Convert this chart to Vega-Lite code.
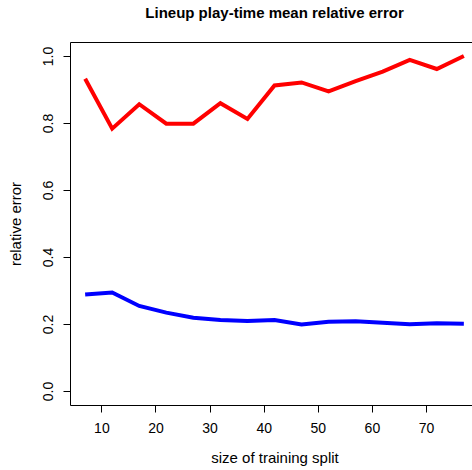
{
  "$schema": "https://vega.github.io/schema/vega-lite/v6.json",
  "autosize": "none",
  "padding": {"left": 70, "top": 42, "right": 0, "bottom": 65},
  "width": 409,
  "height": 363,
  "background": "white",
  "title": {"text": "Lineup play-time mean relative error", "font": "Liberation Sans", "fontSize": 15, "fontWeight": "bold", "color": "black", "anchor": "middle", "offset": 21},
  "config": {
    "view": {"stroke": "black", "strokeWidth": 1},
    "axis": {"labelFont": "Liberation Sans", "titleFont": "Liberation Sans", "labelFontSize": 14, "titleFontSize": 15, "titleFontWeight": "normal", "labelColor": "black", "titleColor": "black", "tickColor": "black", "tickSize": 7, "grid": false, "domain": false}
  },
  "data": {"values": [
    {"size": 7, "series": "a", "err": 0.932},
    {"size": 12, "series": "a", "err": 0.783},
    {"size": 17, "series": "a", "err": 0.856},
    {"size": 22, "series": "a", "err": 0.798},
    {"size": 27, "series": "a", "err": 0.798},
    {"size": 32, "series": "a", "err": 0.859},
    {"size": 37, "series": "a", "err": 0.812},
    {"size": 42, "series": "a", "err": 0.912},
    {"size": 47, "series": "a", "err": 0.921},
    {"size": 52, "series": "a", "err": 0.894},
    {"size": 57, "series": "a", "err": 0.925},
    {"size": 62, "series": "a", "err": 0.953},
    {"size": 67, "series": "a", "err": 0.988},
    {"size": 72, "series": "a", "err": 0.961},
    {"size": 77, "series": "a", "err": 1.0},
    {"size": 7, "series": "b", "err": 0.288},
    {"size": 12, "series": "b", "err": 0.294},
    {"size": 17, "series": "b", "err": 0.254},
    {"size": 22, "series": "b", "err": 0.234},
    {"size": 27, "series": "b", "err": 0.219},
    {"size": 32, "series": "b", "err": 0.212},
    {"size": 37, "series": "b", "err": 0.209},
    {"size": 42, "series": "b", "err": 0.212},
    {"size": 47, "series": "b", "err": 0.199},
    {"size": 52, "series": "b", "err": 0.207},
    {"size": 57, "series": "b", "err": 0.208},
    {"size": 62, "series": "b", "err": 0.204},
    {"size": 67, "series": "b", "err": 0.199},
    {"size": 72, "series": "b", "err": 0.202},
    {"size": 77, "series": "b", "err": 0.201}
  ]},
  "mark": {"type": "line", "strokeWidth": 4, "strokeJoin": "miter"},
  "encoding": {
    "x": {"field": "size", "type": "quantitative", "scale": {"domain": [4.2, 79.8], "nice": false, "zero": false},
      "axis": {"values": [10, 20, 30, 40, 50, 60, 70], "title": "size of training split", "labelPadding": 9, "titleY": 45}},
    "y": {"field": "err", "type": "quantitative", "scale": {"domain": [-0.0416, 1.0416], "nice": false, "zero": false},
      "axis": {"values": [0, 0.2, 0.4, 0.6, 0.8, 1.0], "format": ".1f", "labelAngle": -90, "labelAlign": "center", "labelBaseline": "bottom", "labelPadding": 8, "title": "relative error", "titleX": -47}},
    "color": {"field": "series", "type": "nominal", "scale": {"domain": ["a", "b"], "range": ["#ff0000", "#0000ff"]}, "legend": null}
  }
}
